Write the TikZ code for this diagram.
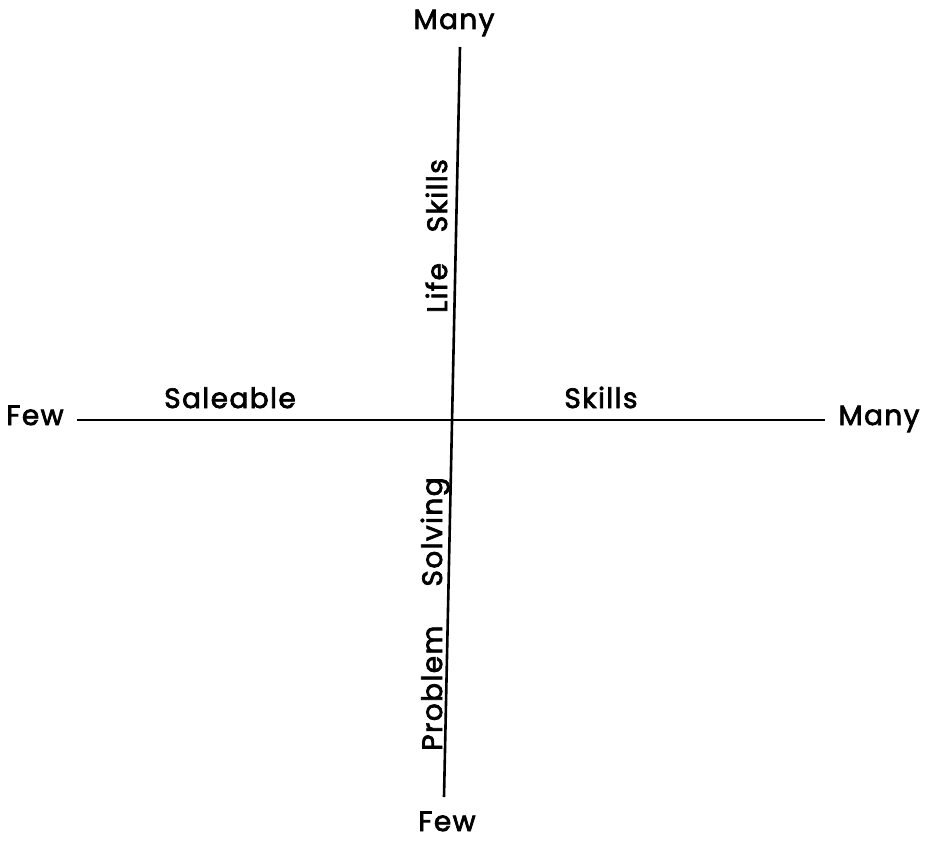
\documentclass[tikz,border=0pt]{standalone}
\usepackage{fontspec}
\setmainfont{Poppins}
\newfontfamily\lblfont{Poppins}[LetterSpace=5,FakeBold=2.5]
\begin{document}
\begin{tikzpicture}[x=1pt,y=-1pt,
  lbl/.style={inner sep=0pt,font=\lblfont\fontsize{28}{32}\selectfont},
  axis/.style={line width=2.6pt}]
\useasboundingbox (0,0) rectangle (936,840);
% axis endpoints
\coordinate (vtop) at (460,47);
\coordinate (vbot) at (444,797);
\coordinate (hleft) at (77,420);
\coordinate (hright) at (825,420);
\draw[axis] (vtop) -- (vbot);
\draw[axis] (hleft) -- (hright);
% end labels
\node[lbl,anchor=base] (manyT) at (454,29) {Many};
\node[lbl,anchor=base] (fewB) at (447,831) {Few};
\node[lbl,anchor=base] (fewL) at (35,425) {Few};
\node[lbl,anchor=base] (manyR) at (879,425) {Many};
% axis labels
\node[lbl,anchor=base] (sale) at (230,408) {Saleable};
\node[lbl,anchor=base] (skillsH) at (601,408) {Skills};
\node[lbl,anchor=base,rotate=90] (life) at (447,236) {Life\hspace{1.1em}Skills};
\node[lbl,anchor=base,rotate=90] (prob) at (442,614) {Problem\hspace{1.4em}Solving};
\end{tikzpicture}
\end{document}
